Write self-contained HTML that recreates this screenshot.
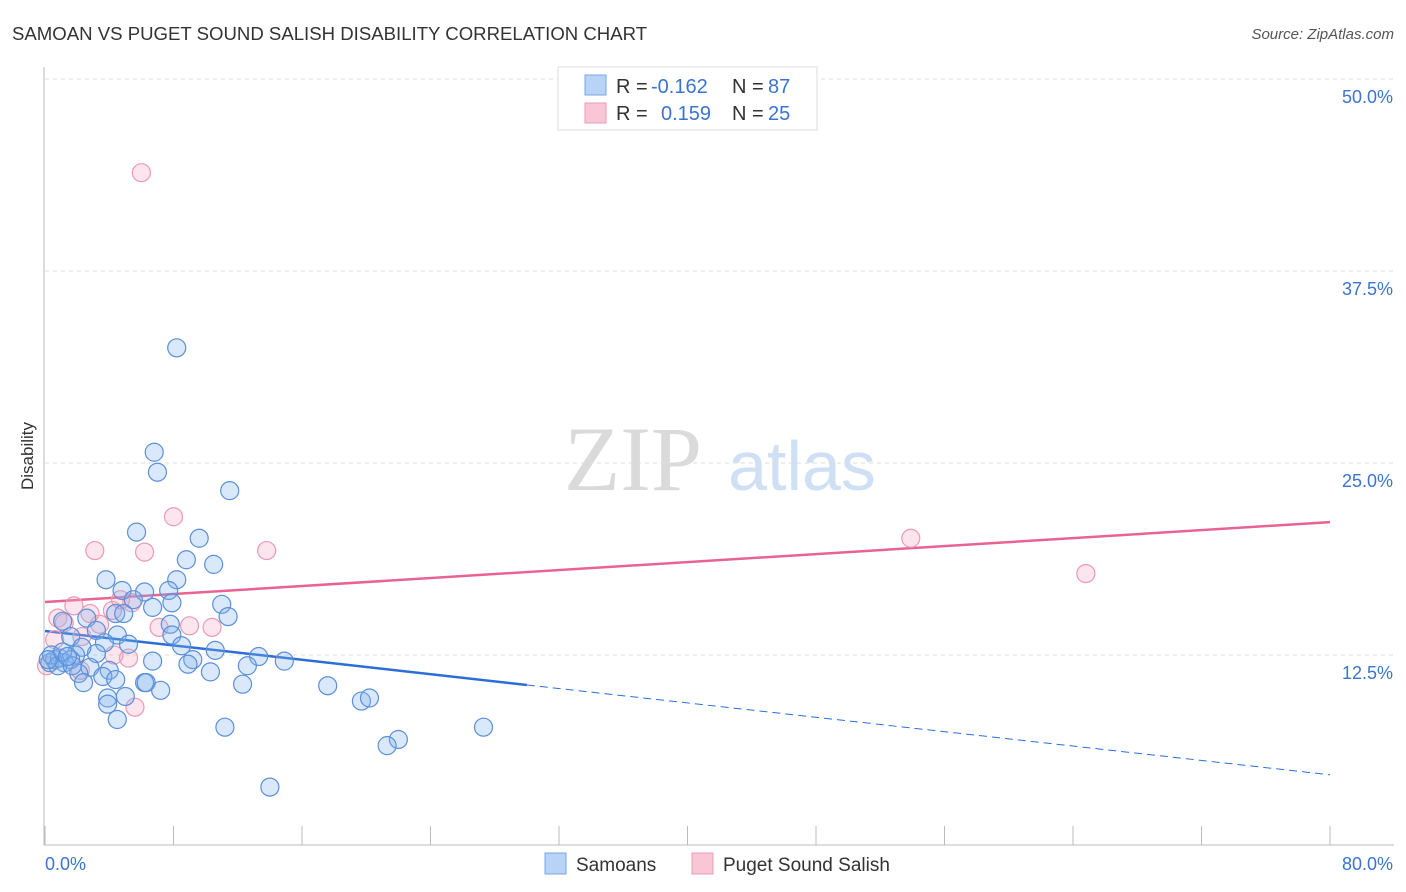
<!DOCTYPE html>
<html><head><meta charset="utf-8">
<style>
body{margin:0;background:#fff;font-family:"Liberation Sans",sans-serif;}
#wrap{position:relative;width:1406px;height:892px;overflow:hidden;}
</style></head>
<body>
<div id="wrap">
<svg id="chart" width="1406" height="892" xmlns="http://www.w3.org/2000/svg">
<text x="12" y="40" font-size="18.6" fill="#333">SAMOAN VS PUGET SOUND SALISH DISABILITY CORRELATION CHART</text>
<text x="1394" y="39" font-size="15" fill="#555" font-style="italic" text-anchor="end">Source: ZipAtlas.com</text>
<text x="33" y="456" font-size="17" fill="#333" transform="rotate(-90 33 456)" text-anchor="middle">Disability</text>
<g>
<text x="633" y="490" font-size="92" font-family="Liberation Serif,serif" fill="#dadada" text-anchor="middle">ZIP</text>
<text x="802" y="490" font-size="70" fill="#cfe0f5" text-anchor="middle">atlas</text>
</g>
<g id="grid"></g>
<g id="axes"></g>
<g id="lines"></g>
<g id="points"></g>
<g>
<rect x="558" y="67" width="259" height="63" fill="#fff" stroke="#ddd"/>
<rect x="585" y="75" width="21" height="20" fill="#b8d3f5" stroke="#7aa6e6"/>
<rect x="585" y="103" width="21" height="20" fill="#f9c6d5" stroke="#eb9ab3"/>
<text x="616" y="93" font-size="20" fill="#333">R = </text><text x="651" y="93" font-size="20" fill="#3b73d0">-0.162</text>
<text x="732" y="93" font-size="20" fill="#333">N = </text><text x="768" y="93" font-size="20" fill="#3b73d0">87</text>
<text x="616" y="120" font-size="20" fill="#333">R = </text><text x="661" y="120" font-size="20" fill="#3b73d0">0.159</text>
<text x="732" y="120" font-size="20" fill="#333">N = </text><text x="768" y="120" font-size="20" fill="#3b73d0">25</text>
</g>
<g>
<rect x="545" y="853" width="21" height="21" fill="#b8d3f5" stroke="#7aa6e6"/>
<text x="576" y="871" font-size="19" fill="#333">Samoans</text>
<rect x="692" y="853" width="21" height="21" fill="#f9c6d5" stroke="#eb9ab3"/>
<text x="723" y="871" font-size="19" fill="#333">Puget Sound Salish</text>
</g>
</svg>
</div>
<script>
const yTicks=[12.5,25.0,37.5,50.0];
const xTickVals=[0,8,16,24,32,40,48,56,64,72,80];
const xLabels=["0.0%","80.0%"];
const samoanX=[8.2,6.8,7.0,11.5,5.7,9.6,8.8,10.5,3.8,8.2,4.8,6.2,7.7,5.5,7.9,6.7,11.0,11.4,4.4,4.9,2.6,1.1,7.8,3.2,4.5,7.9,1.6,3.7,5.2,8.5,10.6,3.2,2.3,1.9,13.3,14.9,6.7,9.2,8.9,12.6,10.3,2.8,4.0,2.1,3.6,2.4,4.4,6.2,6.3,12.3,7.2,17.6,5.0,3.9,3.9,19.7,20.2,4.5,11.2,27.3,22.0,21.3,14.0,0.3,0.6,0.9,1.2,1.6,0.4,0.8,0.2,1.1,1.7,1.4];
const samoanY=[32.5,25.7,24.4,23.2,20.5,20.1,18.7,18.4,17.4,17.4,16.7,16.6,16.7,16.1,15.9,15.6,15.8,15.0,15.2,15.2,14.9,14.7,14.5,14.1,13.8,13.8,13.7,13.3,13.2,13.1,12.8,12.6,13.0,12.5,12.4,12.1,12.1,12.2,11.9,11.8,11.4,11.7,11.5,11.3,11.1,10.7,10.9,10.7,10.7,10.6,10.2,10.5,9.8,9.7,9.3,9.5,9.7,8.3,7.8,7.8,7.0,6.6,3.9,12.0,12.2,12.3,12.0,12.2,12.5,11.8,12.2,12.7,11.8,12.4];
const pugetX=[6.0,8.0,3.1,6.2,13.8,53.9,64.8,1.8,5.4,2.8,4.2,0.8,1.2,7.1,9.0,10.4,2.3,5.2,2.2,5.6,0.1,0.6,4.3,3.4,4.7];
const pugetY=[43.9,21.5,19.3,19.2,19.3,20.1,17.8,15.7,15.9,15.2,15.4,14.9,14.6,14.3,14.4,14.3,13.7,12.3,11.5,9.1,11.8,13.5,12.5,14.5,16.1];
const samoanTrend=[14.06,-0.117];
const pugetTrend=[15.95,0.065];
const samoanSolidEnd=30;

const NS="http://www.w3.org/2000/svg";
const X0=45,X1=1330,YB=847,PX_PER=192/12.5;
const sx=v=>X0+(X1-X0)*v/80;
const sy=v=>YB-v*PX_PER;
function mk(tag,attrs,parent){const e=document.createElementNS(NS,tag);for(const k in attrs)e.setAttribute(k,attrs[k]);parent.appendChild(e);return e;}
const grid=document.getElementById('grid'),axes=document.getElementById('axes'),lines=document.getElementById('lines'),pts=document.getElementById('points');
yTicks.forEach(t=>{
 const l=mk('line',{x1:45,x2:1394,y1:sy(t),y2:sy(t),stroke:'#ddd','stroke-dasharray':'4,4'},grid);
 
 
 const tx=mk('text',{x:1393,y:sy(t)+24,'font-size':18,fill:'#3b73d0','text-anchor':'end'},axes);
 tx.textContent=t.toFixed(1)+'%';
 
 
});
const ax=mk('line',{x1:44,x2:44,y1:67,y2:845,stroke:'#bbb'},axes);


const bx=mk('line',{x1:44,x2:1394,y1:845,y2:845,stroke:'#bbb'},axes);


xTickVals.forEach(v=>{
 const t=mk('line',{x1:sx(v),x2:sx(v),y1:826,y2:845,stroke:'#bbb'},axes);
 
 
});
const l0=mk('text',{x:45,y:870,'font-size':18,fill:'#3b73d0'},axes);l0.textContent=xLabels[0];


const l1=mk('text',{x:1393,y:870,'font-size':18,fill:'#3b73d0','text-anchor':'end'},axes);l1.textContent=xLabels[1];



function drawPts(xs,ys,fill,stroke,name){
 xs.forEach((x,i)=>{
  const c=mk('circle',{cx:sx(x),cy:sy(ys[i]),r:9,fill:fill,stroke:stroke,'stroke-width':1.2},pts);
  
  
 });
}
drawPts(pugetX,pugetY,'rgba(246,170,196,0.3)','#eb9ab3','point-puget-sound-salish');
drawPts(samoanX,samoanY,'rgba(130,178,238,0.3)','#5b8fd9','point-samoan');

const pl=mk('line',{x1:sx(0),y1:sy(pugetTrend[0]),x2:sx(80),y2:sy(pugetTrend[0]+pugetTrend[1]*80),stroke:'#e8648f','stroke-width':2.5},lines);


const bl=mk('line',{x1:sx(0),y1:sy(samoanTrend[0]),x2:sx(samoanSolidEnd),y2:sy(samoanTrend[0]+samoanTrend[1]*samoanSolidEnd),stroke:'#2a6fd6','stroke-width':2.5},lines);


const bd=mk('line',{x1:sx(samoanSolidEnd),y1:sy(samoanTrend[0]+samoanTrend[1]*samoanSolidEnd),x2:sx(80),y2:sy(samoanTrend[0]+samoanTrend[1]*80),stroke:'#2a6fd6','stroke-width':1,'stroke-dasharray':'8,5'},lines);


</script>
</body></html>
